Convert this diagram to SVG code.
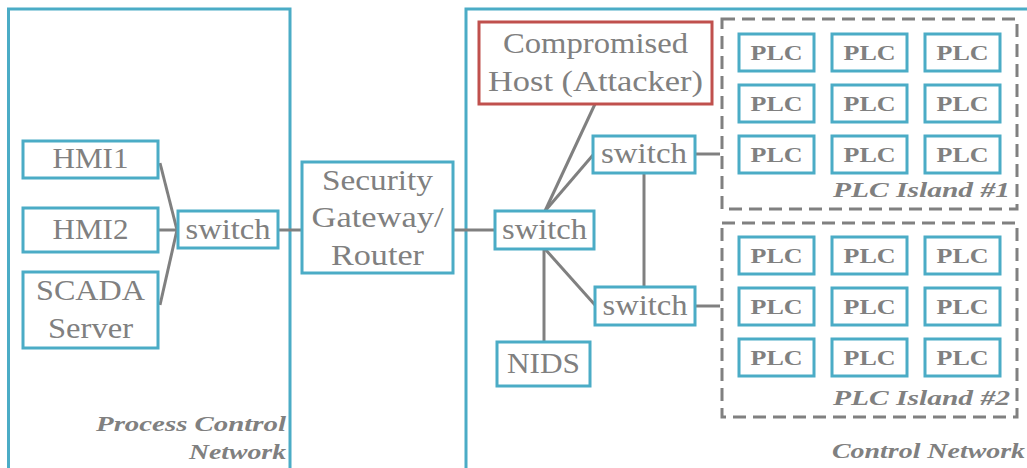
<svg xmlns="http://www.w3.org/2000/svg" width="1027" height="468" viewBox="0 0 1027 468">
  <style>
    .net { fill: none; stroke: #4bacc6; stroke-width: 3; }
    .box { fill: #ffffff; stroke: #4bacc6; stroke-width: 3; }
    .bad { fill: #ffffff; stroke: #c0504d; stroke-width: 3; }
    .island { fill: none; stroke: #808080; stroke-width: 3; stroke-dasharray: 13 7; }
    .link { stroke: #808080; stroke-width: 3; fill: none; }
    .lbl { font-family: "Liberation Serif", "DejaVu Serif", serif; font-size: 29px; fill: #808080; text-anchor: middle; }
    .plc { font-family: "Liberation Serif", "DejaVu Serif", serif; font-size: 21px; font-weight: bold; fill: #808080; text-anchor: middle; }
    .cap { font-family: "Liberation Serif", "DejaVu Serif", serif; font-size: 22px; font-weight: bold; font-style: italic; fill: #808080; text-anchor: end; }
  </style>
  <defs>
    <g id="plc">
      <rect class="box" x="0" y="0" width="75" height="37"/>
      <text class="plc" x="37.5" y="26" textLength="52" lengthAdjust="spacingAndGlyphs">PLC</text>
    </g>
  </defs>

  <rect width="1027" height="468" fill="#ffffff"/>

  <!-- network zones -->
  <g id="process-control-network">
    <path class="net" d="M8.5,470 V9 H290 V470"/>
    <text class="cap" x="286" y="431" textLength="190" lengthAdjust="spacingAndGlyphs">Process Control</text>
    <text class="cap" x="286" y="459" textLength="97" lengthAdjust="spacingAndGlyphs">Network</text>
  </g>
  <g id="control-network">
    <path class="net" d="M466,470 V9 H1030"/>
    <text class="cap" x="1025" y="458" textLength="193" lengthAdjust="spacingAndGlyphs">Control Network</text>
  </g>

  <!-- connectors -->
  <g id="connectors">
    <line class="link" x1="160" y1="163" x2="177" y2="230"/>
    <line class="link" x1="158" y1="230" x2="178" y2="230"/>
    <line class="link" x1="160" y1="305" x2="177" y2="230"/>
    <line class="link" x1="278" y1="230" x2="302" y2="230"/>
    <line class="link" x1="453" y1="230" x2="495" y2="230"/>
    <line class="link" x1="545" y1="211" x2="595" y2="104"/>
    <line class="link" x1="545" y1="211" x2="593" y2="155"/>
    <line class="link" x1="545" y1="249" x2="595" y2="305"/>
    <line class="link" x1="544" y1="249" x2="544" y2="342"/>
    <line class="link" x1="644" y1="173" x2="644" y2="287"/>
    <polyline class="link" points="695,154 720,154"/>
    <polyline class="link" points="695,306 720,306"/>
  </g>

  <!-- process control side -->
  <g id="hmi1">
    <rect class="box" x="23" y="141" width="135" height="37"/>
    <text class="lbl" x="90.5" y="168" textLength="76" lengthAdjust="spacingAndGlyphs">HMI1</text>
  </g>
  <g id="hmi2">
    <rect class="box" x="23" y="208" width="135" height="44"/>
    <text class="lbl" x="90.5" y="239" textLength="76" lengthAdjust="spacingAndGlyphs">HMI2</text>
  </g>
  <g id="scada-server">
    <rect class="box" x="23" y="272" width="135" height="76"/>
    <text class="lbl" x="90.5" y="300" textLength="109" lengthAdjust="spacingAndGlyphs">SCADA</text>
    <text class="lbl" x="90.5" y="338" textLength="85" lengthAdjust="spacingAndGlyphs">Server</text>
  </g>
  <g id="pcn-switch">
    <rect class="box" x="178" y="211" width="100" height="37"/>
    <text class="lbl" x="228" y="239" textLength="85" lengthAdjust="spacingAndGlyphs">switch</text>
  </g>

  <g id="security-gateway">
    <rect class="box" x="302" y="162" width="151" height="111"/>
    <text class="lbl" x="377.5" y="190" textLength="111" lengthAdjust="spacingAndGlyphs">Security</text>
    <text class="lbl" x="377.5" y="227" textLength="132" lengthAdjust="spacingAndGlyphs">Gateway/</text>
    <text class="lbl" x="377.5" y="265" textLength="93" lengthAdjust="spacingAndGlyphs">Router</text>
  </g>

  <!-- control network side -->
  <g id="attacker">
    <rect class="bad" x="479" y="22" width="233" height="82"/>
    <text class="lbl" x="595.5" y="53" textLength="185" lengthAdjust="spacingAndGlyphs">Compromised</text>
    <text class="lbl" x="595.5" y="91" textLength="215" lengthAdjust="spacingAndGlyphs">Host (Attacker)</text>
  </g>
  <g id="core-switch">
    <rect class="box" x="495" y="211" width="99" height="38"/>
    <text class="lbl" x="544.5" y="239" textLength="85" lengthAdjust="spacingAndGlyphs">switch</text>
  </g>
  <g id="island1-switch">
    <rect class="box" x="593" y="136" width="102" height="37"/>
    <text class="lbl" x="644" y="163" textLength="86" lengthAdjust="spacingAndGlyphs">switch</text>
  </g>
  <g id="island2-switch">
    <rect class="box" x="595" y="287" width="100" height="38"/>
    <text class="lbl" x="645" y="315" textLength="85" lengthAdjust="spacingAndGlyphs">switch</text>
  </g>
  <g id="nids">
    <rect class="box" x="497" y="342" width="93" height="44"/>
    <text class="lbl" x="543.5" y="373" textLength="73" lengthAdjust="spacingAndGlyphs">NIDS</text>
  </g>

  <g id="plc-island-1">
    <rect class="island" x="722" y="19" width="295" height="190"/>
    <use href="#plc" x="739" y="34"/>
    <use href="#plc" x="832" y="34"/>
    <use href="#plc" x="925" y="34"/>
    <use href="#plc" x="739" y="85"/>
    <use href="#plc" x="832" y="85"/>
    <use href="#plc" x="925" y="85"/>
    <use href="#plc" x="739" y="136"/>
    <use href="#plc" x="832" y="136"/>
    <use href="#plc" x="925" y="136"/>
    <text class="cap" x="1010" y="197" textLength="177" lengthAdjust="spacingAndGlyphs">PLC Island #1</text>
  </g>
  <g id="plc-island-2">
    <rect class="island" x="722" y="223" width="295" height="194"/>
    <use href="#plc" x="739" y="237"/>
    <use href="#plc" x="832" y="237"/>
    <use href="#plc" x="925" y="237"/>
    <use href="#plc" x="739" y="288"/>
    <use href="#plc" x="832" y="288"/>
    <use href="#plc" x="925" y="288"/>
    <use href="#plc" x="739" y="339"/>
    <use href="#plc" x="832" y="339"/>
    <use href="#plc" x="925" y="339"/>
    <text class="cap" x="1010" y="405" textLength="177" lengthAdjust="spacingAndGlyphs">PLC Island #2</text>
  </g>
</svg>
